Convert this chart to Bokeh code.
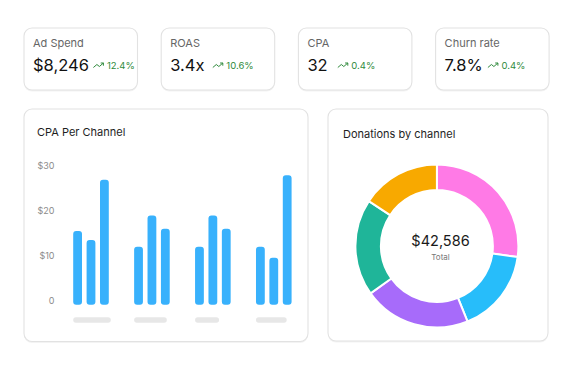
import math
from bokeh.plotting import figure
from bokeh.models import Range1d, ColumnDataSource
from bokeh.transform import dodge
from bokeh.core.properties import value
from bokeh.embed import file_html
from bokeh.resources import INLINE

# ---------------- data ----------------
kpi_labels = ["Ad Spend", "ROAS", "CPA", "Churn rate"]
kpi_values = ["$8,246", "3.4x", "32", "7.8%"]
kpi_changes = ["12.4%", "10.6%", "0.4%", "0.4%"]

bar_channels = ["Channel 1", "Channel 2", "Channel 3", "Channel 4"]
series_a = [16.5, 13, 13, 13]
series_b = [14.5, 20, 20, 10.5]
series_c = [28, 17, 17, 29]
y_ticks = [0, 10, 20, 30]
y_tick_labels = ["0", "$10", "$20", "$30"]

donut_channels = ["Channel A", "Channel B", "Channel C", "Channel D", "Channel E"]
donut_values = [11569, 7110, 9061, 8150, 6696]
donut_colors = ["#FF7AE6", "#27BDFA", "#A76BFA", "#1FB599", "#F8A900"]

# ---------------- layout / style ----------------
W, H = 556, 353
FONT = value("Inter")
GREEN = "#2f8a3c"
BAR_COLOR = "#38B1FC"
TS = -4.5  # baseline correction

p = figure(width=W, height=H, x_range=Range1d(0, W), y_range=Range1d(H, 0),
           output_backend="svg", toolbar_location=None, min_border=0,
           x_axis_location=None, y_axis_location=None)
p.grid.visible = False
p.outline_line_color = None
p.background_fill_color = "white"
p.border_fill_color = "white"

# cards
card_l = [23.5 + 137.2 * i for i in range(4)] + [23.5, 327.5]
card_r = [l + 113.5 for l in card_l[:4]] + [307.5, 547.5]
card_t = [27.5] * 4 + [108.5, 108.5]
card_b = [89.5] * 4 + [341.0, 340.5]
p.quad(left=card_l, right=card_r, top=[t + 1 for t in card_t], bottom=[b + 1.5 for b in card_b],
       fill_color="#f3f3f3", line_color=None, border_radius=8)
p.quad(left=card_l, right=card_r, top=card_t, bottom=card_b,
       fill_color="white", line_color="#e2e2e2", line_width=1.1, border_radius=8)

# KPI texts
kpi_x = [l + 9 for l in card_l[:4]]
p.text(x=kpi_x, y=[47 + TS] * 4, text=kpi_labels, text_font=FONT, text_font_size="11px",
       text_color="#666666", text_baseline="alphabetic")
p.text(x=kpi_x, y=[69 + TS] * 4, text=kpi_values, text_font=FONT, text_font_size="16.5px",
       text_color="#111111", text_baseline="alphabetic")
arrow_off = [69.4, 51.6, 39.4, 52.3]
arrow_x = [l + o for l, o in zip(card_l[:4], arrow_off)]
p.text(x=[a + 13.5 for a in arrow_x], y=[69 + TS] * 4, text=kpi_changes, text_font=FONT,
       text_font_size="9.5px", text_color=GREEN, text_baseline="alphabetic")
zig_dx = [0, 3.5, 6, 10]
zig_dy = [67, 64, 66, 62.5]
head_dx = [7.3, 10, 10]
head_dy = [62.5, 62.5, 65.2]
xs, ys = [], []
for a in arrow_x:
    xs.append([a + d for d in zig_dx]); ys.append(zig_dy)
    xs.append([a + d for d in head_dx]); ys.append(head_dy)
p.multi_line(xs=xs, ys=ys, line_color=GREEN, line_width=1.0)

# titles
p.text(x=[36.5], y=[135.5 + TS], text=["CPA Per Channel"], text_font=FONT, text_font_size="11px",
       text_color="#1e1e1e", text_baseline="alphabetic")
p.text(x=[342.5], y=[137.5 + TS], text=["Donations by channel"], text_font=FONT, text_font_size="11px",
       text_color="#1e1e1e", text_baseline="alphabetic")

# ---------------- bar chart (own scales) ----------------
BASE_Y, PPU = 304.3, 4.47          # pixel of value 0, pixels per unit
G0, GS = 90.5, 60.93               # pixel of first group centre, pixels per group
p.extra_y_ranges = {"by": Range1d((BASE_Y - H) / PPU, BASE_Y / PPU)}
p.extra_x_ranges = {"bx": Range1d((0 - G0) / GS, (W - G0) / GS)}

src = ColumnDataSource(dict(idx=list(range(len(bar_channels))), a=series_a, b=series_b, c=series_c))
OFF = 13.4 / GS
BW = 8.8 / GS
for key, off in zip(["a", "b", "c"], [-OFF, 0, OFF]):
    p.vbar(x=dodge("idx", off), top=key, bottom=0, width=BW, source=src,
           x_range_name="bx", y_range_name="by", fill_color=BAR_COLOR, line_color=None,
           border_radius=3)

p.text(x=[54] * len(y_ticks), y=y_ticks, text=y_tick_labels, y_range_name="by",
       text_align="right", text_baseline="middle", y_offset=-4.8, text_font=FONT,
       text_font_size="9px", text_color="#8c8c8c")

pill_w = [37.6, 32.7, 24, 30.7]
pill_l = [i - OFF - BW / 2 for i in range(len(bar_channels))]
pill_r = [l + w / GS for l, w in zip(pill_l, pill_w)]
p.quad(left=pill_l, right=pill_r, top=[316.8] * 4, bottom=[322.3] * 4, x_range_name="bx",
       fill_color="#e7e7e7", line_color=None, border_radius=3)

# ---------------- donut ----------------
CX, CY = 436.4, 245.5
p.extra_x_ranges["dx"] = Range1d(0 - CX, W - CX)
p.extra_y_ranges["dy"] = Range1d(CY - H, CY)
total = sum(donut_values)
starts, ends, cum = [], [], 0
for v in donut_values:
    a0 = math.pi / 2 - 2 * math.pi * cum / total
    cum += v
    a1 = math.pi / 2 - 2 * math.pi * cum / total
    starts.append(a1)
    ends.append(a0)
p.annular_wedge(x=0, y=0, inner_radius=56, outer_radius=81.5, inner_radius_units="screen",
                outer_radius_units="screen", start_angle=starts, end_angle=ends,
                fill_color=donut_colors, line_color="white", line_width=2,
                x_range_name="dx", y_range_name="dy")
p.text(x=[440], y=[244 + TS], text=[f"${total:,}"], text_align="center", text_baseline="alphabetic",
       text_font=FONT, text_font_size="14.5px", text_color="#1a1a1a")
p.text(x=[440], y=[261 + TS], text=["Total"], text_align="center", text_baseline="alphabetic",
       text_font=FONT, text_font_size="8px", text_color="#777777")

open("out.html", "w").write(file_html(p, INLINE, title="Dashboard"))
